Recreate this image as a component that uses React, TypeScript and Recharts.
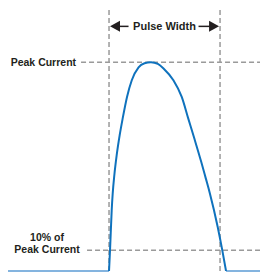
import React from 'react';
import { LineChart, Line, XAxis, YAxis, ReferenceLine } from 'recharts';

// time (arbitrary units, pulse width = 10) vs current (% of peak)
const pulseTime = [0, 0.09, 0.24, 0.33, 0.48, 0.69, 0.96, 1.23, 1.62, 2.05, 2.66, 3.2, 3.78, 4.4, 4.95, 5.8, 6.55, 7.14, 7.7, 8.31, 8.71, 9.08, 9.79, 10.2, 10.54];
const pulseCurrent = [0, 10, 29, 37, 46, 55.5, 65.1, 73.1, 83.4, 91.4, 97.6, 99.5, 100, 99.2, 96.8, 91.4, 83.4, 73, 63.2, 52.2, 44.5, 37.3, 21.1, 10, 0];

const X_DOMAIN: [number, number] = [-9.1, 14.32];
const Y_DOMAIN: [number, number] = [0, 126];
const PULSE_START = 0;
const PULSE_END = 10;
const PEAK = 100;
const TEN_PCT = 10;
const ARROW_LEVEL = 117.2;

const data = pulseTime.map((t, i) => ({ t, current: pulseCurrent[i] }));

const BLUE = '#0f72bd';
const GRID = '#9a9a9a';
const TEXT = '#231f20';
const FONT = '"Liberation Sans", Arial, Helvetica, sans-serif';

const PeakLabel = (props: any) => {
  const { viewBox } = props;
  return (
    <text x={viewBox.x - 5} y={viewBox.y + 4} textAnchor="end" fontFamily={FONT} fontWeight="bold" fontSize={10.5} fill={TEXT}>
      Peak Current
    </text>
  );
};

const TenPctLabel = (props: any) => {
  const { viewBox } = props;
  const cx = viewBox.x - 40;
  return (
    <text textAnchor="middle" fontFamily={FONT} fontWeight="bold" fontSize={10.5} fill={TEXT}>
      <tspan x={cx} y={viewBox.y - 9}>10% of</tspan>
      <tspan x={cx} y={viewBox.y + 3}>Peak Current</tspan>
    </text>
  );
};

const PulseArrow = (props: any) => {
  const { x1, x2, y1 } = props;
  const y = y1;
  const mid = (x1 + x2) / 2;
  const head = 10;
  const half = 5.5;
  const gap = 36;
  return (
    <g>
      <polygon points={`${x1 + 1},${y} ${x1 + 1 + head},${y - half} ${x1 + 1 + head},${y + half}`} fill={TEXT} />
      <polygon points={`${x2 - 1},${y} ${x2 - 1 - head},${y - half} ${x2 - 1 - head},${y + half}`} fill={TEXT} />
      <line x1={x1 + head} y1={y} x2={mid - gap} y2={y} stroke={TEXT} strokeWidth={1.5} />
      <line x1={mid + gap - 2} y1={y} x2={x2 - head} y2={y} stroke={TEXT} strokeWidth={1.5} />
      <text x={mid} y={y + 4} textAnchor="middle" fontFamily={FONT} fontWeight="bold" fontSize={11} fill={TEXT}>
        Pulse Width
      </text>
    </g>
  );
};

const App: React.FC = () => {
  return (
    <LineChart width={260} height={264} data={data} margin={{ top: 0, right: 0, bottom: 1, left: 0 }}>
      <XAxis dataKey="t" type="number" domain={X_DOMAIN} hide allowDataOverflow />
      <YAxis type="number" domain={Y_DOMAIN} hide allowDataOverflow />
      <ReferenceLine x={PULSE_START} stroke={GRID} strokeWidth={1.5} strokeDasharray="5 3" />
      <ReferenceLine x={PULSE_END} stroke={GRID} strokeWidth={1.5} strokeDasharray="5 3" />
      <ReferenceLine
        segment={[{ x: -2.52, y: PEAK }, { x: X_DOMAIN[1], y: PEAK }]}
        stroke={GRID}
        strokeWidth={1.5}
        strokeDasharray="5 3"
        label={<PeakLabel />}
      />
      <ReferenceLine
        segment={[{ x: -1.98, y: TEN_PCT }, { x: X_DOMAIN[1], y: TEN_PCT }]}
        stroke={GRID}
        strokeWidth={1.5}
        strokeDasharray="5 3"
        label={<TenPctLabel />}
      />
      <ReferenceLine segment={[{ x: X_DOMAIN[0], y: 0 }, { x: PULSE_START, y: 0 }]} stroke="#5b9bd5" strokeWidth={1.5} />
      <ReferenceLine segment={[{ x: 10.54, y: 0 }, { x: X_DOMAIN[1], y: 0 }]} stroke="#5b9bd5" strokeWidth={1.5} />
      <ReferenceLine
        segment={[{ x: PULSE_START, y: ARROW_LEVEL }, { x: PULSE_END, y: ARROW_LEVEL }]}
        shape={(p: any) => <PulseArrow {...p} />}
      />
      <Line
        type="monotone"
        dataKey="current"
        stroke={BLUE}
        strokeWidth={2}
        dot={false}
        isAnimationActive={false}
      />
    </LineChart>
  );
};

export default App;
